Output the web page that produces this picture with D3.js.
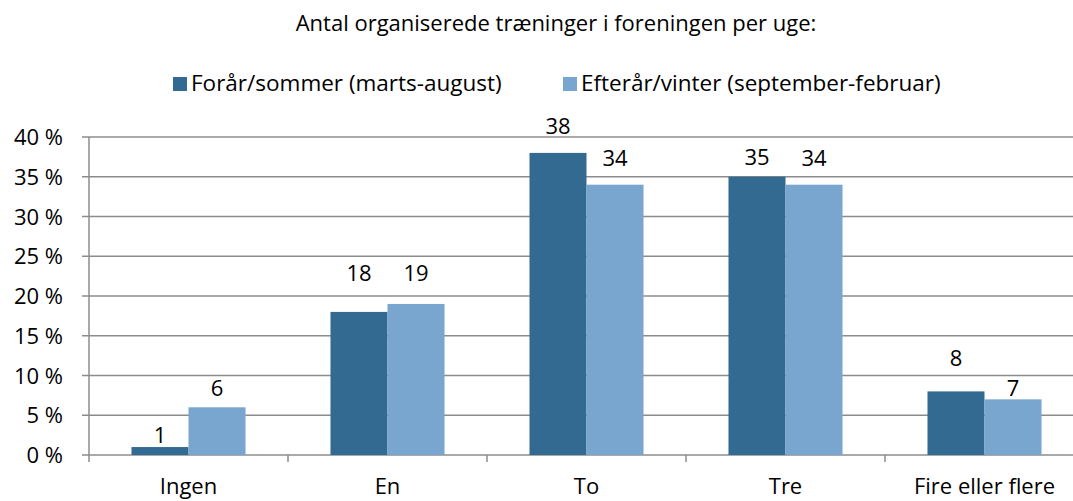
<!DOCTYPE html>
<html>
<head>
<meta charset="utf-8">
<script src="https://cdn.jsdelivr.net/npm/d3@7"></script>
<style>
body { margin: 0; background: #fff; }
text { font-family: "Open Sans", Lato, sans-serif; fill: #000; }
</style>
</head>
<body>
<div id="chart"></div>
<script>
var _width = 1073;
var _height = 501;

var categories = ["Ingen", "En", "To", "Tre", "Fire eller flere"];
var seriesNames = ["Forår/sommer (marts-august)", "Efterår/vinter (september-februar)"];
var spring = [1, 18, 38, 35, 8];
var autumn = [6, 19, 34, 34, 7];
var yTicks = [0, 5, 10, 15, 20, 25, 30, 35, 40];
var colors = ["#336a91", "#79a6cf"];

// gap (px) between bar top and label baseline, labels were hand placed in the original
var liftSpring = [4, 31, 19, 12, 25];
var liftAutumn = [11, 23, 19, 19, 3];

var _left = 89, _right = 1084, _top = 137, _bottom = 455;
var _fs = "22px";

var svg = d3.select("#chart").append("svg")
    .attr("width", _width)
    .attr("height", _height);

var x = d3.scaleBand().domain(categories).range([_left, _right]);
var x2 = d3.scaleBand().domain([0, 1]).range([0, x.bandwidth()]).paddingOuter(0.745).paddingInner(0);
var y = d3.scaleLinear().domain([0, 40]).range([_bottom, _top]);

// gridlines
svg.append("g").selectAll("line").data(yTicks).enter().append("line")
    .attr("x1", _left - 7)
    .attr("x2", _right)
    .attr("y1", function (d) { return y(d); })
    .attr("y2", function (d) { return y(d); })
    .style("stroke", "#8c8c8c")
    .style("stroke-width", 1.5);

// y labels
svg.append("g").selectAll("text").data(yTicks).enter().append("text")
    .attr("x", 63)
    .attr("y", function (d) { return y(d) + 8; })
    .attr("text-anchor", "end")
    .style("font-size", _fs)
    .text(function (d) { return d + " %"; });

// y axis line
svg.append("line")
    .attr("x1", _left).attr("x2", _left)
    .attr("y1", _top).attr("y2", _bottom)
    .style("stroke", "#8c8c8c").style("stroke-width", 1.5);

// x ticks
var xt = categories.map(function (c) { return x(c); }).concat([_right]);
svg.append("g").selectAll("line").data(xt).enter().append("line")
    .attr("x1", function (d) { return d; })
    .attr("x2", function (d) { return d; })
    .attr("y1", _bottom)
    .attr("y2", _bottom + 7)
    .style("stroke", "#8c8c8c").style("stroke-width", 1.5);

// bars
var data = [];
categories.forEach(function (c, i) {
    data.push({ cat: c, s: 0, v: spring[i], lift: liftSpring[i] });
    data.push({ cat: c, s: 1, v: autumn[i], lift: liftAutumn[i] });
});

svg.append("g").selectAll("rect").data(data).enter().append("rect")
    .attr("x", function (d) { return x(d.cat) + x2(d.s); })
    .attr("y", function (d) { return y(d.v); })
    .attr("width", x2.bandwidth())
    .attr("height", function (d) { return _bottom - y(d.v); })
    .style("fill", function (d) { return colors[d.s]; });

// value labels
svg.append("g").selectAll("text").data(data).enter().append("text")
    .attr("x", function (d) { return x(d.cat) + x2(d.s) + x2.bandwidth() / 2; })
    .attr("y", function (d) { return y(d.v) - d.lift; })
    .attr("text-anchor", "middle")
    .style("font-size", _fs)
    .text(function (d) { return d.v; });

// category labels
svg.append("g").selectAll("text").data(categories).enter().append("text")
    .attr("x", function (d) { return x(d) + x.bandwidth() / 2; })
    .attr("y", 494)
    .attr("text-anchor", "middle")
    .style("font-size", _fs)
    .text(function (d) { return d; });

// title
svg.append("text")
    .attr("x", 556)
    .attr("y", 31)
    .attr("text-anchor", "middle")
    .style("font-size", _fs)
    .text("Antal organiserede træninger i foreningen per uge:");

// legend
var legX = [173, 563];
var leg = svg.append("g").selectAll("g").data(seriesNames).enter().append("g")
    .attr("transform", function (d, i) { return "translate(" + legX[i] + ",0)"; });
leg.append("rect")
    .attr("y", 77)
    .attr("width", 14).attr("height", 14)
    .style("fill", function (d, i) { return colors[i]; });
leg.append("text")
    .attr("x", 18)
    .attr("y", 91)
    .style("font-size", "22.5px")
    .text(function (d) { return d; });
</script>
</body>
</html>
